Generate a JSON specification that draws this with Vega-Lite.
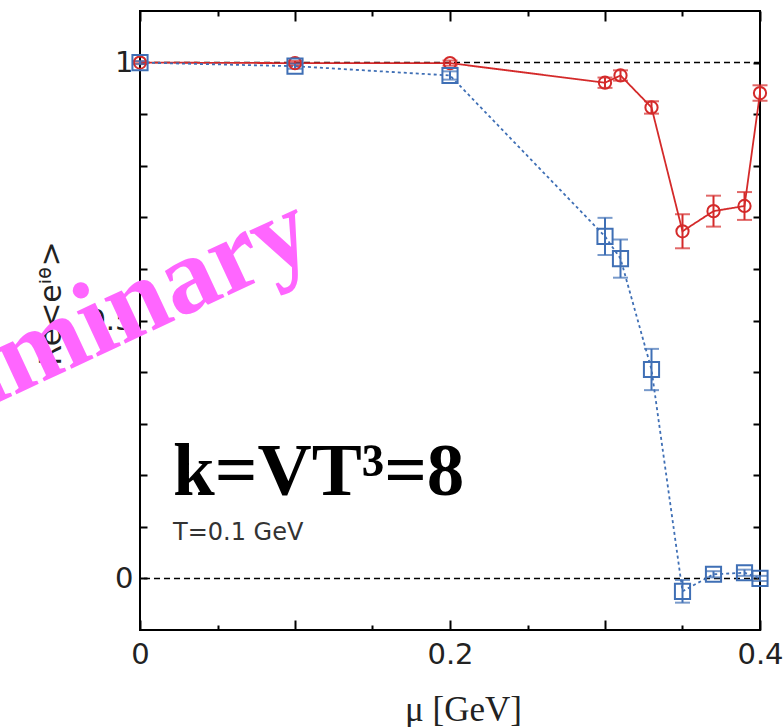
{
  "$schema": "https://vega.github.io/schema/vega-lite/v6.json",
  "width": 620,
  "height": 619,
  "autosize": {"type": "none"},
  "padding": {"left": 140, "top": 11, "right": 23, "bottom": 97},
  "background": "white",
  "config": {
    "view": {"stroke": "black", "strokeWidth": 2},
    "axis": {
      "grid": false,
      "domain": false,
      "labelFlush": false,
      "labelFont": "DejaVu Sans",
      "labelFontSize": 29,
      "labelColor": "#222222",
      "tickColor": "black",
      "tickWidth": 2,
      "titleColor": "#222222"
    }
  },
  "datasets": {
    "phase": [
      {"mu": 0.0, "re": 1.0, "err": 0.002, "series": "S1"},
      {"mu": 0.1, "re": 0.999, "err": 0.004, "series": "S1"},
      {"mu": 0.2, "re": 0.999, "err": 0.005, "series": "S1"},
      {"mu": 0.3, "re": 0.961, "err": 0.01, "series": "S1"},
      {"mu": 0.31, "re": 0.975, "err": 0.01, "series": "S1"},
      {"mu": 0.33, "re": 0.913, "err": 0.012, "series": "S1"},
      {"mu": 0.35, "re": 0.673, "err": 0.033, "series": "S1"},
      {"mu": 0.37, "re": 0.712, "err": 0.03, "series": "S1"},
      {"mu": 0.39, "re": 0.722, "err": 0.027, "series": "S1"},
      {"mu": 0.4, "re": 0.941, "err": 0.015, "series": "S1"},
      {"mu": 0.0, "re": 1.0, "err": 0.003, "series": "S2"},
      {"mu": 0.1, "re": 0.993, "err": 0.005, "series": "S2"},
      {"mu": 0.2, "re": 0.975, "err": 0.008, "series": "S2"},
      {"mu": 0.3, "re": 0.663, "err": 0.036, "series": "S2"},
      {"mu": 0.31, "re": 0.62, "err": 0.037, "series": "S2"},
      {"mu": 0.33, "re": 0.405, "err": 0.04, "series": "S2"},
      {"mu": 0.35, "re": -0.025, "err": 0.022, "series": "S2"},
      {"mu": 0.37, "re": 0.008, "err": 0.006, "series": "S2"},
      {"mu": 0.39, "re": 0.011, "err": 0.006, "series": "S2"},
      {"mu": 0.4, "re": 0.0, "err": 0.005, "series": "S2"}
    ],
    "refs": [{"level": 0}, {"level": 1}]
  },
  "layer": [
    {
      "layer": [
        {
          "data": {"name": "refs"},
          "mark": {"type": "rule", "color": "black", "strokeWidth": 1.5, "strokeDash": [6, 4]},
          "encoding": {
            "y": {"field": "level", "type": "quantitative", "title": "Re<eⁱᶿ>", "scale": {"domain": [-0.1, 1.1], "nice": false, "zero": false}}
          }
        },
        {
          "data": {"name": "phase"},
          "mark": {"type": "line", "strokeWidth": 1.8},
          "encoding": {
            "x": {
              "field": "mu", "type": "quantitative", "title": "μ [GeV]",
              "scale": {"domain": [0, 0.4], "nice": false, "zero": false},
              "axis": {
                "orient": "bottom",
                "values": [0, 0.05, 0.1, 0.15, 0.2, 0.25, 0.3, 0.35, 0.4],
                "format": "~g",
                "labelExpr": "abs(datum.value * 5 - round(datum.value * 5)) < 0.001 ? datum.label : ''",
                "tickSize": {"condition": {"test": "round(datum.value * 20) % 2 == 0", "value": -10}, "value": -5},
                "labelPadding": 20,
                "titleFont": "Liberation Serif",
                "titleFontSize": 35,
                "titleFontWeight": "normal",
                "titleBaseline": "alphabetic",
                "titleY": 90,
                "titleX": 323
              }
            },
            "y": {
              "field": "re", "type": "quantitative", "title": "Re<eⁱᶿ>",
              "scale": {"domain": [-0.1, 1.1], "nice": false, "zero": false},
              "axis": {
                "orient": "left",
                "values": [0, 0.1, 0.2, 0.3, 0.4, 0.5, 0.6, 0.7, 0.8, 0.9, 1],
                "format": "~g",
                "labelExpr": "datum.value == 0 || datum.value == 0.5 || datum.value == 1 ? datum.label : ''",
                "tickSize": -7,
                "labelPadding": 14,
                "titleFont": "DejaVu Sans",
                "titleFontSize": 30,
                "titleFontWeight": "normal",
                "titleAngle": 270,
                "titleAlign": "center",
                "titleBaseline": "alphabetic",
                "titleX": -80,
                "titleY": 292
              }
            },
            "color": {"field": "series", "type": "nominal", "scale": {"domain": ["S1", "S2"], "range": ["#d42a2a", "#3f6fb5"]}, "legend": null},
            "strokeDash": {"field": "series", "type": "nominal", "scale": {"domain": ["S1", "S2"], "range": [[1, 0], [3, 3]]}, "legend": null}
          }
        },
        {
          "data": {"name": "phase"},
          "mark": {"type": "errorbar", "thickness": 2, "ticks": {"size": 15, "thickness": 2}},
          "encoding": {
            "x": {"field": "mu", "type": "quantitative", "title": "μ [GeV]", "scale": {"domain": [0, 0.4], "nice": false, "zero": false}},
            "y": {"field": "re", "type": "quantitative", "title": "Re<eⁱᶿ>", "scale": {"domain": [-0.1, 1.1], "nice": false, "zero": false}},
            "yError": {"field": "err"},
            "color": {"field": "series", "type": "nominal", "scale": {"domain": ["S1", "S2"], "range": ["#d42a2a", "#3f6fb5"]}, "legend": null}
          }
        },
        {
          "data": {"name": "phase"},
          "mark": {"type": "point", "filled": false, "strokeWidth": 2, "opacity": 1},
          "encoding": {
            "x": {"field": "mu", "type": "quantitative", "title": "μ [GeV]", "scale": {"domain": [0, 0.4], "nice": false, "zero": false}},
            "y": {"field": "re", "type": "quantitative", "title": "Re<eⁱᶿ>", "scale": {"domain": [-0.1, 1.1], "nice": false, "zero": false}},
            "color": {"field": "series", "type": "nominal", "scale": {"domain": ["S1", "S2"], "range": ["#d42a2a", "#3f6fb5"]}, "legend": null},
            "shape": {"field": "series", "type": "nominal", "scale": {"domain": ["S1", "S2"], "range": ["circle", "square"]}, "legend": null},
            "size": {"field": "series", "type": "nominal", "scale": {"domain": ["S1", "S2"], "range": [150, 230]}, "legend": null}
          }
        },
        {
          "data": {"values": [{"note": "k=VT³=8"}]},
          "mark": {"type": "text", "font": "Liberation Serif", "fontWeight": "bold", "fontSize": 75, "align": "left", "baseline": "alphabetic", "color": "black"},
          "encoding": {
            "x": {"datum": 0.0213, "type": "quantitative", "title": "μ [GeV]", "scale": {"domain": [0, 0.4], "nice": false, "zero": false}},
            "y": {"datum": 0.162, "type": "quantitative", "title": "Re<eⁱᶿ>", "scale": {"domain": [-0.1, 1.1], "nice": false, "zero": false}},
            "text": {"field": "note"}
          }
        },
        {
          "data": {"values": [{"note": "T=0.1 GeV"}]},
          "mark": {"type": "text", "font": "DejaVu Sans", "fontSize": 24, "align": "left", "baseline": "alphabetic", "color": "#333333"},
          "encoding": {
            "x": {"datum": 0.0213, "type": "quantitative", "title": "μ [GeV]", "scale": {"domain": [0, 0.4], "nice": false, "zero": false}},
            "y": {"datum": 0.0744, "type": "quantitative", "title": "Re<eⁱᶿ>", "scale": {"domain": [-0.1, 1.1], "nice": false, "zero": false}},
            "text": {"field": "note"}
          }
        },
        {
          "data": {"values": [{"note": "Preliminary"}]},
          "mark": {"type": "text", "font": "Liberation Serif", "fontWeight": "bold", "fontSize": 108, "align": "right", "baseline": "alphabetic", "angle": -25, "color": "#ff66ff"},
          "encoding": {
            "x": {"datum": 0.115, "type": "quantitative", "title": "μ [GeV]", "scale": {"domain": [0, 0.4], "nice": false, "zero": false}},
            "y": {"datum": 0.63, "type": "quantitative", "title": "Re<eⁱᶿ>", "scale": {"domain": [-0.1, 1.1], "nice": false, "zero": false}},
            "text": {"field": "note"}
          }
        }
      ]
    },
    {
      "data": {"name": "phase"},
      "mark": {"type": "point", "opacity": 0},
      "encoding": {
        "x": {
          "field": "mu", "type": "quantitative",
          "scale": {"domain": [0, 0.4], "nice": false, "zero": false},
          "axis": {
            "orient": "top",
            "values": [0, 0.05, 0.1, 0.15, 0.2, 0.25, 0.3, 0.35, 0.4],
            "labels": false,
            "title": null,
            "tickSize": {"condition": {"test": "round(datum.value * 20) % 2 == 0", "value": -10}, "value": -5}
          }
        },
        "y": {
          "field": "re", "type": "quantitative",
          "scale": {"domain": [-0.1, 1.1], "nice": false, "zero": false},
          "axis": {
            "orient": "right",
            "values": [0, 0.1, 0.2, 0.3, 0.4, 0.5, 0.6, 0.7, 0.8, 0.9, 1],
            "labels": false,
            "title": null,
            "tickSize": -7
          }
        }
      }
    }
  ],
  "resolve": {"axis": {"x": "independent", "y": "independent"}}
}
